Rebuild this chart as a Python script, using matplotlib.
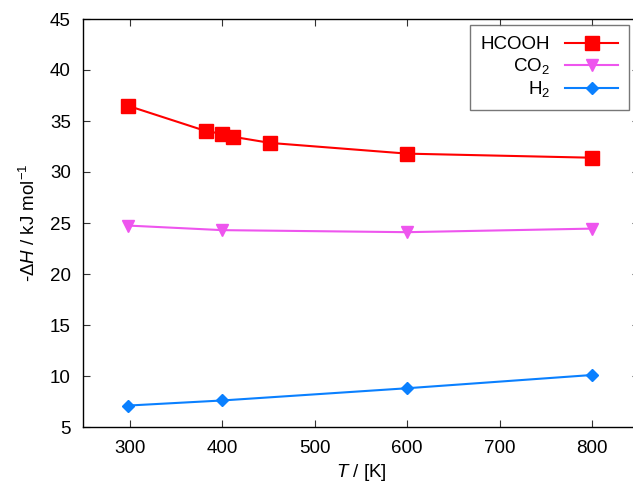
import matplotlib
matplotlib.use("Agg")
import matplotlib.pyplot as plt

plt.rcParams['font.family'] = ['Liberation Sans', 'DejaVu Sans']
plt.rcParams['mathtext.fontset'] = 'custom'
plt.rcParams['mathtext.rm'] = 'Liberation Sans'
plt.rcParams['mathtext.it'] = 'Liberation Sans:italic'
plt.rcParams['mathtext.bf'] = 'Liberation Sans:bold'

# Data
T_hcooh = [298, 383, 400, 412, 452, 600, 800]
dH_hcooh = [36.5, 34.0, 33.75, 33.45, 32.85, 31.8, 31.4]
T_co2 = [298, 400, 600, 800]
dH_co2 = [24.75, 24.3, 24.1, 24.45]
T_h2 = [298, 400, 600, 800]
dH_h2 = [7.1, 7.6, 8.8, 10.1]

labels = ['HCOOH', 'CO$_2$', 'H$_2$']
colors = ['#ff0000', '#ee55ee', '#0a80ff']

fig = plt.figure(figsize=(6.33, 4.86), dpi=100)
W, H = 633, 486
left_px, right_px, top_px, bot_px = 83.3, 638.5, 19, 427
ax = fig.add_axes([left_px / W, 1 - bot_px / H, (right_px - left_px) / W, (bot_px - top_px) / H])

ax.plot(T_hcooh, dH_hcooh, color=colors[0], lw=1.5, marker='s', ms=9.5, label=labels[0])
ax.plot(T_co2, dH_co2, color=colors[1], lw=1.5, marker='v', ms=9, label=labels[1])
ax.plot(T_h2, dH_h2, color=colors[2], lw=1.5, marker='D', ms=6, label=labels[2])

ax.set_xlim(250, 850)
ax.set_ylim(5, 45)
ax.set_xticks([300, 400, 500, 600, 700, 800])
ax.set_yticks([5, 10, 15, 20, 25, 30, 35, 40, 45])
ax.tick_params(direction='in', top=True, right=True, length=5, width=0.8,
               labelsize=13.5, pad=9, color='#333333')
for s in ax.spines.values():
    s.set_linewidth(1.0)

ax.set_xlabel(r'$\mathit{T}$ / [K]', fontsize=13.5, labelpad=4)
ax.set_ylabel(r'-$\Delta\mathit{H}$ / kJ mol$^{-1}$', fontsize=13.5, labelpad=8)

leg = ax.legend(loc='upper right', bbox_to_anchor=(0.983, 0.985), borderaxespad=0,
                markerfirst=False, fancybox=False, frameon=True, fontsize=13.5,
                handlelength=2.8, labelspacing=0.15, handletextpad=0.8,
                borderpad=0.6)
leg.get_frame().set_edgecolor('#555555')
leg.get_frame().set_linewidth(1.0)
for col in leg._legend_handle_box.get_children():
    col.align = 'right'

fig.savefig('out.png', dpi=100)
